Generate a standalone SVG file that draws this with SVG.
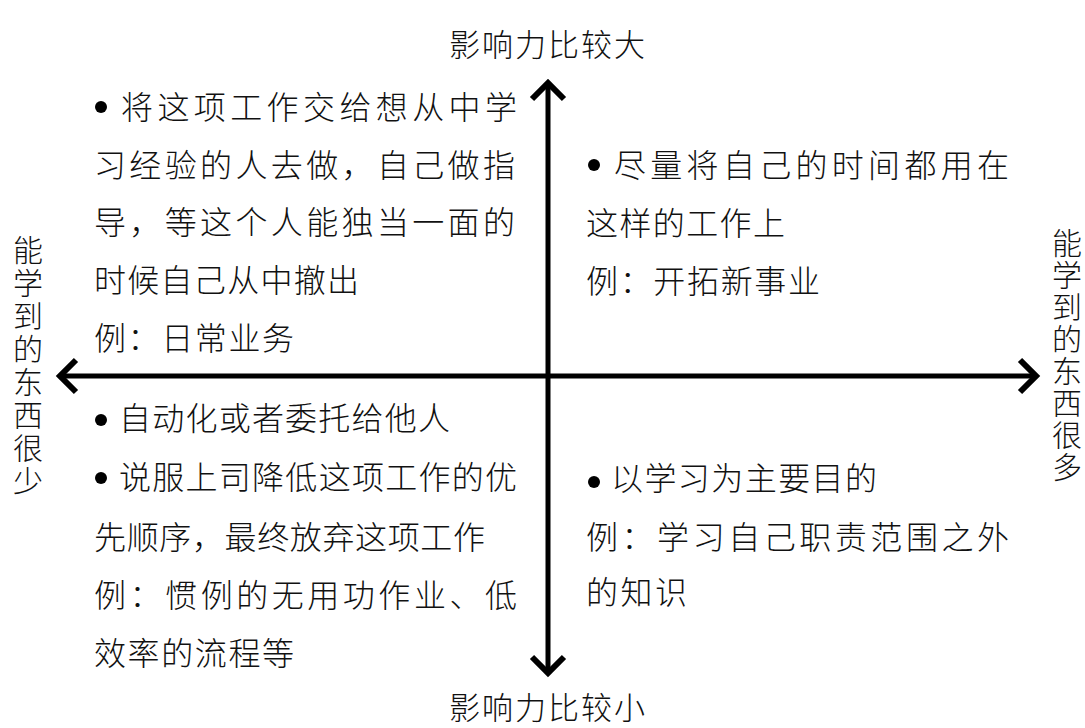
<svg xmlns="http://www.w3.org/2000/svg" width="1085" height="728" viewBox="0 0 1085 728">
<style>
text{font-family:"Noto Sans CJK SC","Noto Sans",sans-serif;font-weight:300;fill:#111;}
.b{font-size:32px;}
.l{font-size:31px;}
.v{font-size:30px;writing-mode:vertical-rl;}
.ax{stroke:#000;stroke-width:5;fill:none;}
.hd{stroke:#000;stroke-width:6;fill:none;stroke-linecap:butt;stroke-linejoin:miter;}
.dot{fill:#000;}
</style>
<rect width="1085" height="728" fill="#fff"/>
<g id="connectors">
<line class="ax" x1="548" y1="84" x2="548" y2="672"/>
<line class="ax" x1="62" y1="376" x2="1034" y2="376"/>
<polyline class="hd" points="532,99 548,83 564,99"/>
<polyline class="hd" points="532,657 548,673 564,657"/>
<polyline class="hd" points="76,360 60,376 76,392"/>
<polyline class="hd" points="1020,360 1036,376 1020,392"/>
</g>
<g id="label-top"><text class="l" x="548" y="56" text-anchor="middle" letter-spacing="2">影响力比较大</text></g>
<g id="label-bottom"><text class="l" x="548" y="719" text-anchor="middle" letter-spacing="2">影响力比较小</text></g>
<g id="label-left"><text class="v" x="28" y="235" letter-spacing="3">能学到的东西很少</text></g>
<g id="label-right"><text class="v" x="1067" y="228" letter-spacing="2">能学到的东西很多</text></g>
<g id="quadrant-top-left">
<circle class="dot" cx="101" cy="107" r="6"/>
<text class="b" x="121" y="119" textLength="396" lengthAdjust="spacing">将这项工作交给想从中学</text>
<text class="b" x="94" y="177" textLength="421" lengthAdjust="spacing">习经验的人去做，自己做指</text>
<text class="b" x="94" y="234" textLength="421" lengthAdjust="spacing">导，等这个人能独当一面的</text>
<text class="b" x="94" y="292" textLength="265" lengthAdjust="spacing">时候自己从中撤出</text>
<text class="b" x="94" y="350" textLength="200" lengthAdjust="spacing">例：日常业务</text>
</g>
<g id="quadrant-top-right">
<circle class="dot" cx="594" cy="165" r="6"/>
<text class="b" x="614" y="177" textLength="395" lengthAdjust="spacing">尽量将自己的时间都用在</text>
<text class="b" x="586" y="235" textLength="199" lengthAdjust="spacing">这样的工作上</text>
<text class="b" x="586" y="293" textLength="234" lengthAdjust="spacing">例：开拓新事业</text>
</g>
<g id="quadrant-bottom-left">
<circle class="dot" cx="101" cy="420" r="6"/>
<text class="b" x="119" y="430" textLength="331" lengthAdjust="spacing">自动化或者委托给他人</text>
<circle class="dot" cx="101" cy="478" r="6"/>
<text class="b" x="119" y="489" textLength="398" lengthAdjust="spacing">说服上司降低这项工作的优</text>
<text class="b" x="94" y="549" textLength="391" lengthAdjust="spacing">先顺序，最终放弃这项工作</text>
<text class="b" x="94" y="607" textLength="423" lengthAdjust="spacing">例：惯例的无用功作业、低</text>
<text class="b" x="94" y="665" textLength="200" lengthAdjust="spacing">效率的流程等</text>
</g>
<g id="quadrant-bottom-right">
<circle class="dot" cx="594" cy="482" r="6"/>
<text class="b" x="611" y="490" textLength="266" lengthAdjust="spacing">以学习为主要目的</text>
<text class="b" x="586" y="549" textLength="423" lengthAdjust="spacing">例：学习自己职责范围之外</text>
<text class="b" x="586" y="604" textLength="101" lengthAdjust="spacing">的知识</text>
</g>
</svg>
